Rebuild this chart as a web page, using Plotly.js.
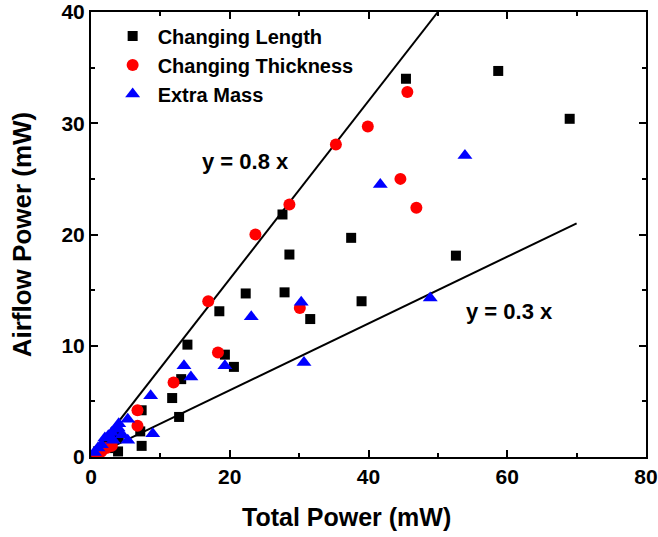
<!DOCTYPE html>
<html><head><meta charset="utf-8">
<script src="https://cdn.plot.ly/plotly-3.0.1.min.js"></script>
<style>body{margin:0;background:#fff}#c{width:658px;height:537px}</style>
</head><body><div id="c"></div>
<script>
const lenX = [45.4,58.7,69.0,37.5,52.6,39.0,31.6,27.6,28.6,22.3,27.9,18.5,13.9,19.3,20.6,13.0,11.7,12.7,7.3,7.1,7.3,3.9,1.0,2.0,3.0,3.5,4.0,2.5];
const lenY = [34.0,34.7,30.4,19.7,18.1,14.0,12.4,21.8,18.2,14.7,14.8,13.1,10.1,9.2,8.1,7.0,5.3,3.6,4.2,2.3,1.0,0.5,0.5,1.0,1.5,2.2,1.8,0.8];
const thkX = [45.6,39.9,35.3,44.6,46.9,28.6,23.7,16.9,30.1,18.3,11.9,6.7,6.7,0.8,1.5,2.2,3.0,1.2];
const thkY = [32.8,29.7,28.1,25.0,22.4,22.7,20.0,14.0,13.4,9.4,6.7,4.2,2.8,0.3,0.5,0.8,1.0,0.6];
const massX = [53.9,41.7,48.9,30.3,23.1,13.4,19.3,30.7,8.6,5.3,14.4,8.9,5.3,3.9,2.0,0.5,1.0,1.5,2.5,3.0,3.5,4.0,4.5,3.2];
const massY = [27.1,24.5,14.3,13.9,12.6,8.2,8.2,8.5,5.5,3.4,7.2,2.1,1.5,2.6,1.7,0.4,0.8,1.1,1.9,2.2,2.5,3.0,2.0,1.5];
const fitSlopes = [0.8, 0.3];
const fitXEnd = [50, 70];
const fitLabels = ['y = 0.8 x', 'y = 0.3 x'];
const labelPos = [[22.3, 26.6], [60.3, 13.1]];

const F = 'Liberation Sans, Arial, sans-serif';
const traces = [];
fitSlopes.forEach((m, i) => {
  traces.push({x: [0, fitXEnd[i]], y: [0, m * fitXEnd[i]], mode: 'lines', line: {color: '#000', width: 2}, showlegend: false, hoverinfo: 'skip'});
});
traces.push({x: lenX, y: lenY, mode: 'markers', name: 'Changing Length', marker: {symbol: 'square', color: '#000', size: 10}});
traces.push({x: thkX, y: thkY, mode: 'markers', name: 'Changing Thickness', marker: {symbol: 'circle', color: '#ff0000', size: 12}});
traces.push({x: massX, y: massY, mode: 'markers', name: 'Extra Mass', marker: {symbol: 'triangle-up', color: '#0000ff', size: 13}});

const axisCommon = {showgrid: false, zeroline: false, showline: true, linecolor: '#000', linewidth: 2, mirror: 'ticks', ticks: 'inside', ticklen: 7, tickwidth: 2, tickcolor: '#000', ticklabeloverflow: 'allow', tickfont: {family: F, size: 21, color: '#000', weight: 'bold'}};
const layout = {
  width: 658, height: 537,
  margin: {l: 91, r: 12, t: 12, b: 80},
  paper_bgcolor: '#fff', plot_bgcolor: '#fff',
  font: {family: F, color: '#000'},
  xaxis: Object.assign({}, axisCommon, {range: [0, 80], dtick: 20, minor: {dtick: 10, ticks: 'inside', ticklen: 4, tickwidth: 2, tickcolor: '#000'}}),
  yaxis: Object.assign({}, axisCommon, {range: [0, 40], dtick: 10, minor: {dtick: 5, ticks: 'inside', ticklen: 4, tickwidth: 2, tickcolor: '#000'}, title: {text: 'Airflow Power (mW)', font: {family: F, size: 26, weight: 'bold'}, standoff: 22}}),
  legend: {x: 0.03, y: 0.99, xanchor: 'left', yanchor: 'top', bgcolor: 'rgba(0,0,0,0)', font: {family: F, size: 20, weight: 'bold'}, tracegroupgap: 0, itemwidth: 40},
  annotations: fitLabels.map((t, i) => ({x: labelPos[i][0], y: labelPos[i][1], text: t, showarrow: false, font: {family: F, size: 22, weight: 'bold', color: '#000'}})).concat([
    {xref: 'paper', yref: 'paper', x: 0.461, y: -0.135, xanchor: 'center', yanchor: 'middle', text: 'Total Power (mW)', showarrow: false, font: {family: F, size: 25, weight: 'bold', color: '#000'}}
  ]),
  showlegend: true
};
Plotly.newPlot('c', traces, layout, {displayModeBar: false, staticPlot: true});
</script></body></html>
